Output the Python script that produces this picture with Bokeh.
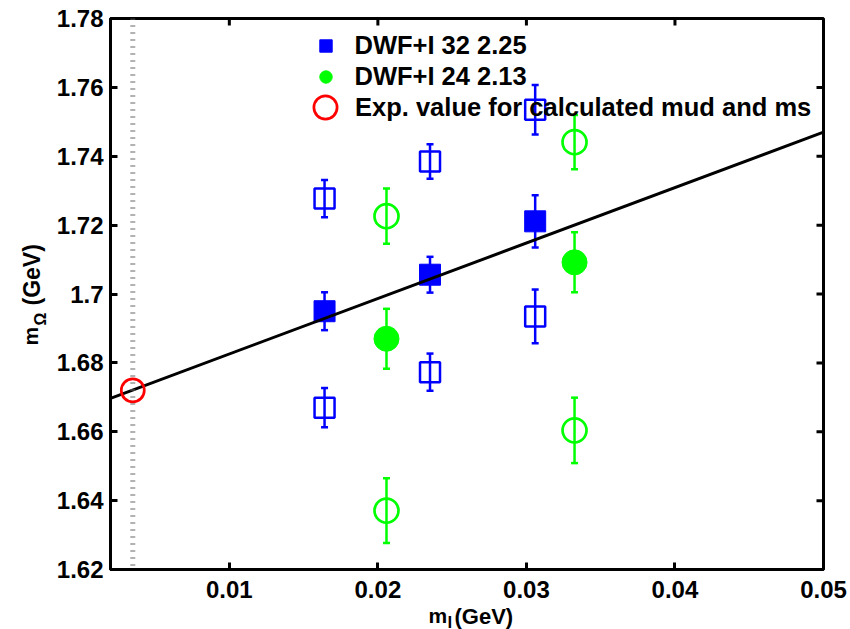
import numpy as np
from bokeh.plotting import figure
from bokeh.models import (ColumnDataSource, Legend, LegendItem,
                          FixedTicker, Label, Range1d, Span)
from bokeh.embed import file_html
from bokeh.resources import INLINE

# ---------------- data ----------------
x32 = [0.01641, 0.02351, 0.03059]          # m_l (GeV), DWF+I 32 2.25
x24 = [0.02058, 0.03324]                   # m_l (GeV), DWF+I 24 2.13

b32_fill_y = [1.6950, 1.7056, 1.7211]
b32_fill_err = [0.0055, 0.0052, 0.0076]
b32_up_y = [1.7277, 1.7385, 1.7535]
b32_up_err = [0.0054, 0.0050, 0.0072]
b32_lo_y = [1.6670, 1.6773, 1.6935]
b32_lo_err = [0.0057, 0.0054, 0.0078]

g24_fill_y = [1.6870, 1.7092]
g24_fill_err = [0.0087, 0.0087]
g24_up_y = [1.7226, 1.7441]
g24_up_err = [0.0080, 0.0079]
g24_lo_y = [1.6371, 1.6604]
g24_lo_err = [0.0094, 0.0095]

exp_x = [0.0035]
exp_y = [1.672]

fit_x = [0.002, 0.05]
fit_y = [1.6697, 1.7470]

x_min, x_max = 0.002, 0.05
y_min, y_max = 1.62, 1.78
x_ticks = [0.01, 0.02, 0.03, 0.04, 0.05]
x_tick_labels = ["0.01", "0.02", "0.03", "0.04", "0.05"]
y_ticks = [1.62, 1.64, 1.66, 1.68, 1.70, 1.72, 1.74, 1.76, 1.78]
y_tick_labels = ["1.62", "1.64", "1.66", "1.68", "1.7", "1.72", "1.74", "1.76", "1.78"]

labels = ["DWF+I 32 2.25", "DWF+I 24 2.13", "Exp. value for calculated mud and ms"]

BLUE = "#0000ff"
GREEN = "#00ff00"
RED = "#ff0000"
FONT = "Liberation Sans"

# ---------------- figure ----------------
p = figure(frame_width=713, frame_height=551,
           min_border_left=110, min_border_right=27,
           min_border_top=18, min_border_bottom=60,
           x_range=Range1d(x_min, x_max), y_range=Range1d(y_min, y_max),
           output_backend="svg", toolbar_location=None)
p.background_fill_color = "white"
p.border_fill_color = "white"
p.xgrid.visible = False
p.ygrid.visible = False
p.outline_line_color = "black"
p.outline_line_width = 3

xt = FixedTicker(ticks=x_ticks, minor_ticks=[])
yt = FixedTicker(ticks=y_ticks, minor_ticks=[])

for ax, ticker, ticks, tl, standoff in ((p.xaxis[0], xt, x_ticks, x_tick_labels, 11),
                                        (p.yaxis[0], yt, y_ticks, y_tick_labels, 7)):
    ax.ticker = ticker
    ax.axis_line_width = 3
    ax.axis_line_color = "black"
    ax.major_tick_in = 7
    ax.major_tick_out = 0
    ax.major_tick_line_width = 3
    ax.minor_tick_line_color = None
    ax.major_label_overrides = dict(zip(ticks, tl))
    ax.major_label_text_font = FONT
    ax.major_label_text_font_style = "bold"
    ax.major_label_text_font_size = "24px"
    ax.major_label_text_color = "black"
    ax.major_label_standoff = standoff

# inward ticks on the top and right frame edges (outer half clipped by the frame)
p.scatter(x=x_ticks, y=[y_max] * len(x_ticks), marker="dash", angle=np.pi / 2,
          size=14, line_color="black", line_width=3)
p.scatter(x=[x_max] * len(y_ticks), y=y_ticks, marker="dash",
          size=14, line_color="black", line_width=3)

# vertical dotted reference line
p.add_layout(Span(location=exp_x[0], dimension="height", line_color="#666666",
                  line_width=5, line_dash="1 6"))


def series(xs, ys, errs, color, marker, size, filled, lw):
    src = ColumnDataSource(dict(
        x=xs, y=ys,
        lo=[y - e for y, e in zip(ys, errs)],
        hi=[y + e for y, e in zip(ys, errs)]))
    p.segment(x0="x", y0="lo", x1="x", y1="hi", source=src,
              line_color=color, line_width=2.5)
    p.scatter(x="x", y="lo", source=src, marker="dash", size=7,
              line_color=color, line_width=2.5)
    p.scatter(x="x", y="hi", source=src, marker="dash", size=7,
              line_color=color, line_width=2.5)
    if filled:
        r = p.scatter(x="x", y="y", source=src, marker=marker, size=size,
                      fill_color=color, line_color=color, line_width=1)
    else:
        r = p.scatter(x="x", y="y", source=src, marker=marker, size=size,
                      fill_color=None, line_color=color, line_width=lw)
    return r


series(x32, b32_up_y, b32_up_err, BLUE, "square", 20, False, 2.5)
series(x32, b32_lo_y, b32_lo_err, BLUE, "square", 20, False, 2.5)
series(x24, g24_up_y, g24_up_err, GREEN, "circle", 24, False, 2.7)
series(x24, g24_lo_y, g24_lo_err, GREEN, "circle", 24, False, 2.7)
r_b_fill = series(x32, b32_fill_y, b32_fill_err, BLUE, "square", 21, True, 1)
r_g_fill = series(x24, g24_fill_y, g24_fill_err, GREEN, "circle", 25, True, 1)

p.line(fit_x, fit_y, line_color="black", line_width=3)

r_exp = p.scatter(exp_x, exp_y, marker="circle", size=23, fill_color=None,
                  line_color=RED, line_width=2.7)

# ---------------- legends ----------------
common = dict(padding=0, margin=0, spacing=0, border_line_color=None,
              background_fill_alpha=0, label_text_font=FONT,
              label_text_font_style="bold", label_text_font_size="25.5px",
              label_text_color="black")
leg1 = Legend(items=[LegendItem(label=labels[0], renderers=[r_b_fill]),
                     LegendItem(label=labels[1], renderers=[r_g_fill])],
              location=(199.5, 477.5), glyph_width=31, glyph_height=31,
              label_height=31, label_standoff=14, **common)
leg2 = Legend(items=[LegendItem(label=labels[2], renderers=[r_exp])],
              location=(186, 432.7), glyph_width=58, glyph_height=58,
              label_height=58, label_standoff=1, **common)
p.add_layout(leg1)
p.add_layout(leg2)


# ---------------- axis titles (with subscripts), canvas pixel units ----------------
# placed in the bottom side panel so that they are not clipped by the frame
def lab(x, y, text, size, angle=0.0):
    p.add_layout(Label(x=x, y=y, x_units="canvas", y_units="canvas", text=text,
                       angle=angle, text_font=FONT, text_font_style="bold",
                       text_font_size=size, text_color="black",
                       text_align="left", text_baseline="alphabetic"), "below")


lab(428, 615, "m", "21px")
lab(447, 622, "l", "17px")
lab(454, 616, "(GeV)", "22px")

lab(30, 345, "m", "21px", np.pi / 2)
lab(40, 325, "Ω", "16px", np.pi / 2)
lab(31, 305, "(GeV)", "23px", np.pi / 2)

open("out.html", "w").write(file_html(p, INLINE))
